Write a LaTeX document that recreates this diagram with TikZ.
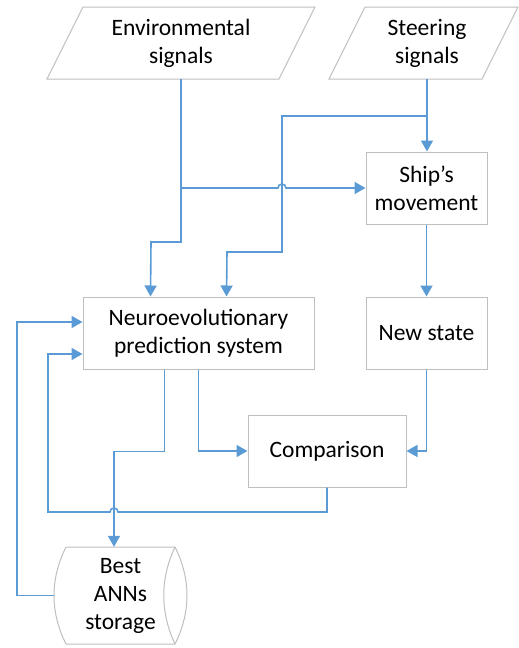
\documentclass[tikz,border=0pt]{standalone}
\usepackage{fontspec}
\setmainfont{Carlito}
\usetikzlibrary{arrows.meta,calc}
\definecolor{lineblue}{HTML}{5B9BD5}
\definecolor{boxgray}{HTML}{BFBFBF}
\tikzset{
  lbl/.style={font=\fontsize{23.5}{28}\selectfont, align=center, inner sep=0pt},
  box/.style={lbl, draw=boxgray, line width=1pt},
  outline/.style={draw=boxgray, line width=1pt},
  conn/.style={draw=lineblue, line width=1.6pt},
  arr/.style={conn, -{Triangle[length=11pt,width=12pt]}},
}
\begin{document}
\begin{tikzpicture}[x=1pt,y=-1pt]
\useasboundingbox (0,0) rectangle (519,648);

% input parallelograms
\draw[outline] (47,79) -- (83,7) -- (315,7) -- (279,79) -- cycle;
\node[lbl, minimum width=232pt, minimum height=72pt] (env) at (181,43) {Environmental\\signals};
\draw[outline] (329,79) -- (365,7) -- (518,7) -- (482,79) -- cycle;
\node[lbl, minimum width=153pt, minimum height=72pt] (steer) at (427,43) {Steering\\signals};

% boxes
\node[box, minimum width=121pt, minimum height=72pt] (ship) at (426.5,188) {Ship’s\\movement};
\node[box, minimum width=231pt, minimum height=72pt] (nps) at (198.5,333) {Neuroevolutionary\\prediction system};
\node[box, minimum width=121pt, minimum height=72pt] (news) at (426.5,333) {New state};
\node[box, minimum width=158pt, minimum height=72pt] (comp) at (327,451) {Comparison};

% storage
\draw[outline] (66,547) -- (175,547) .. controls (191,579) and (191,612) .. (175,644)
  -- (66,644) .. controls (50,612) and (50,579) .. (66,547) -- cycle;
\draw[outline] (175,547) .. controls (160,579) and (160,612) .. (175,644);
\node[lbl, minimum width=133pt, minimum height=97pt] (store) at (120.5,595.5) {Best\\ANNs\\storage};

% junctions
\coordinate (j1) at (427,116);
\coordinate (j2) at (181,188);

% connectors
\draw[arr] (steer.south) -- (steer.south |- ship.north);
\draw[arr] (j1) -- (282,116) -- (282,252) -- (227,252) -- ($(nps.north west)+(144,0)$);
\draw[arr] (env.south) -- (181,242) -- (151,242) -- ($(nps.north west)+(68,0)$);
\draw[arr] (j2) -- (278,188) arc[start angle=180,end angle=0,radius=4pt] -- (ship.west);
\draw[arr] (ship.south) -- (news.north);
\draw[arr] (news.south) |- (comp.east);
\draw[arr] ($(nps.south west)+(116,0)$) |- (comp.west);
\draw[arr] ($(nps.south west)+(82,0)$) -- ++(0,82) -| ($(store.north)+(-6.5,0)$);
\draw[arr] (comp.south) -- (327,512) -- (118,512) arc[start angle=0,end angle=180,radius=4pt]
  -- (48,512) -- (48,354) -- ($(nps.west)+(0,21)$);
\draw[arr] (store.west) -- (17,595.5) |- ($(nps.west)+(0,-11)$);
\end{tikzpicture}
\end{document}
